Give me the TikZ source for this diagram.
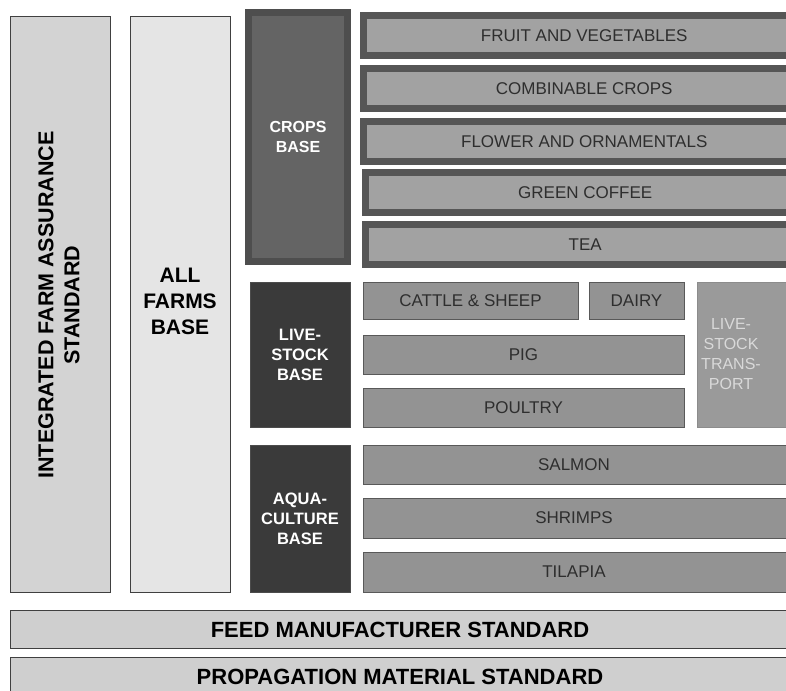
\documentclass[tikz,border=0pt]{standalone}
\usepackage{fontspec}
\setmainfont{Liberation Sans}
\definecolor{ifafill}{HTML}{D3D3D3}
\definecolor{allfill}{HTML}{E5E5E5}
\definecolor{cropframe}{HTML}{4E4E4E}
\definecolor{cropinner}{HTML}{646464}
\definecolor{rowframe}{HTML}{565656}
\definecolor{rowinner}{HTML}{A2A2A2}
\definecolor{basedark}{HTML}{3A3A3A}
\definecolor{lsfill}{HTML}{939393}
\definecolor{trfill}{HTML}{9A9A9A}
\definecolor{stdfill}{HTML}{CFCFCF}
\definecolor{rowtext}{HTML}{2E2E2E}
\newcommand\rbox[7]{\node[#6, minimum width={#4-#2}, minimum height={#5-#3}] (#1) at ({(#2+#4)/2},{(#3+#5)/2}) {#7};}
\begin{document}
\begin{tikzpicture}[x=1pt,y=-1pt,
  every node/.style={inner sep=0pt, outer sep=0pt, align=center},
  colbox/.style={draw=black!75, line width=0.8pt, fill=#1},
  bigbold/.style={font=\bfseries\fontsize{21}{26}\selectfont, text=black},
  stdtext/.style={font=\bfseries\fontsize{22}{26}\selectfont, text=black},
  cropbase/.style={draw=cropframe, line width=7pt, fill=cropinner, text=white, font=\bfseries\fontsize{16}{20}\selectfont},
  croprow/.style={draw=rowframe, line width=7pt, fill=rowinner, text=rowtext, font=\fontsize{17}{20}\selectfont},
  darkbase/.style={draw=black!70, line width=0.6pt, fill=basedark, text=white, font=\bfseries\fontsize{16.5}{20}\selectfont},
  lsrow/.style={draw=black!65, line width=0.6pt, fill=lsfill, text=rowtext, font=\fontsize{17}{20}\selectfont},
  trbox/.style={draw=black!45, line width=0.6pt, fill=trfill, text=black!15, font=\fontsize{16}{20}\selectfont},
  stdbar/.style={draw=black!75, line width=0.8pt, fill=stdfill}
]
\clip (0,0) rectangle (786,690);
\fill[white] (0,0) rectangle (786,690);
% left columns
\rbox{ifa}{10}{16}{110}{592}{colbox=ifafill}{}
\node[bigbold, font=\bfseries\fontsize{21.5}{26}\selectfont, rotate=90] (ifatext) at (59,305) {INTEGRATED FARM ASSURANCE\\STANDARD};
\rbox{all}{130}{16}{230}{592}{colbox=allfill}{}
\node[bigbold] (alltext) at (180,301) {ALL\\FARMS\\BASE};
% crops
\rbox{crops}{248.5}{12.5}{347.5}{261.5}{cropbase}{CROPS\\BASE}
\rbox{fruit}{363.5}{15.5}{805}{55.5}{croprow}{FRUIT AND VEGETABLES}
\rbox{comb}{363.5}{68.5}{805}{108.5}{croprow}{COMBINABLE CROPS}
\rbox{flower}{363.5}{121.5}{805}{161.5}{croprow}{FLOWER AND ORNAMENTALS}
\rbox{coffee}{365.5}{172.5}{805}{212.5}{croprow}{GREEN COFFEE}
\rbox{tea}{365.5}{224.5}{805}{264.5}{croprow}{TEA}
% livestock
\rbox{livestock}{250}{282}{350}{427}{darkbase}{LIVE-\\STOCK\\BASE}
\rbox{cattle}{363}{282}{578}{319}{lsrow}{CATTLE \& SHEEP}
\rbox{dairy}{589}{282}{684}{319}{lsrow}{DAIRY}
\rbox{pig}{363}{335}{684}{374}{lsrow}{PIG}
\rbox{poultry}{363}{388}{684}{427}{lsrow}{POULTRY}
\rbox{transport}{697}{282}{800}{427}{trbox}{}
\node[trbox, draw=none, fill=none] (trtext) at (731,354) {LIVE-\\STOCK\\TRANS-\\PORT};
% aquaculture
\rbox{aqua}{250}{445}{350}{592}{darkbase}{AQUA-\\CULTURE\\BASE}
\rbox{salmon}{363}{445}{800}{484}{lsrow}{}
\node[lsrow, draw=none, fill=none] (salmontext) at (574,464.5) {SALMON};
\rbox{shrimp}{363}{498}{800}{538}{lsrow}{}
\node[lsrow, draw=none, fill=none] (shrimptext) at (574,518) {SHRIMPS};
\rbox{tilapia}{363}{552}{800}{592}{lsrow}{}
\node[lsrow, draw=none, fill=none] (tilapiatext) at (574,572) {TILAPIA};
% standards
\rbox{feed}{10}{610}{795}{648}{stdbar}{}
\node[stdtext] (feedtext) at (400,630) {FEED MANUFACTURER STANDARD};
\rbox{prop}{10}{657}{795}{710}{stdbar}{}
\node[stdtext] (proptext) at (400,677) {PROPAGATION MATERIAL STANDARD};
\end{tikzpicture}
\end{document}
